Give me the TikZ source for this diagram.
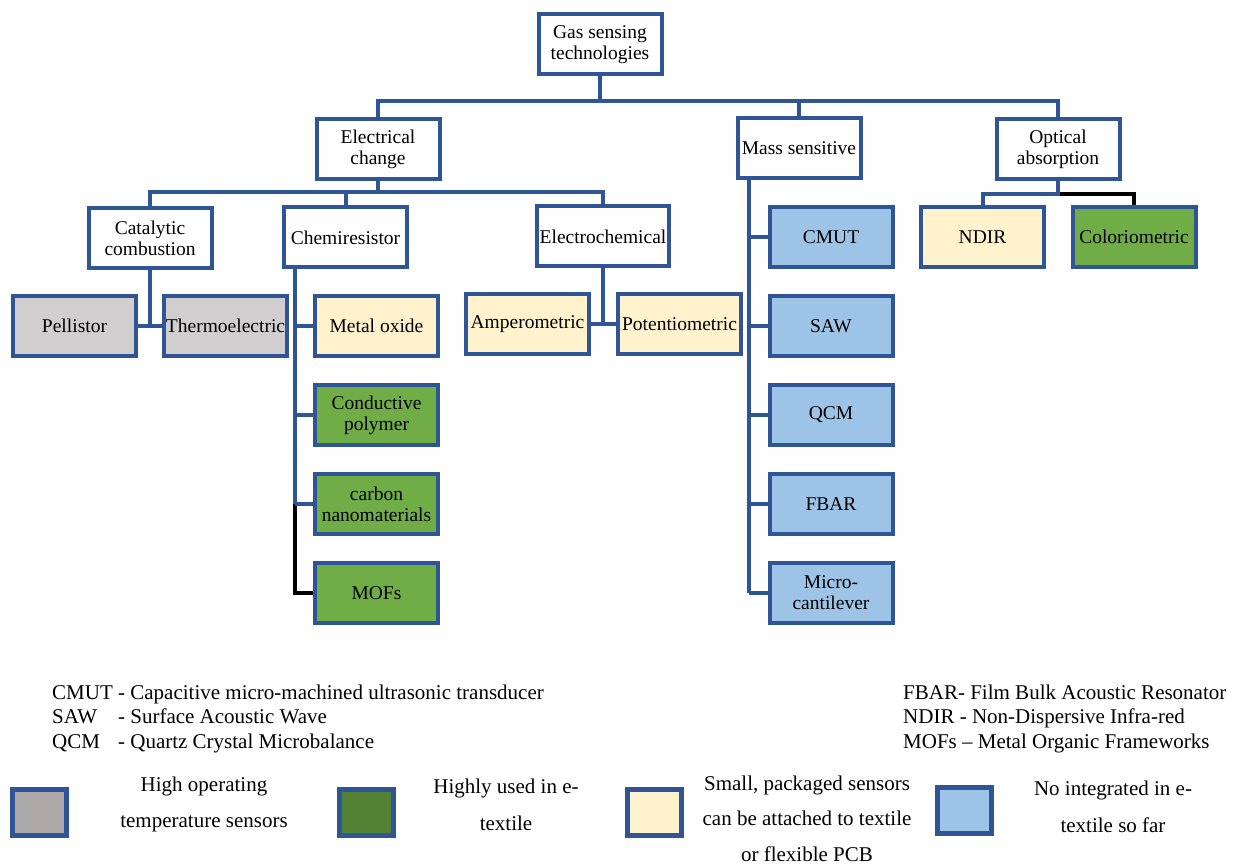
\documentclass[tikz,border=0pt]{standalone}
\usepackage{fontspec}
\setmainfont{Liberation Serif}
\usetikzlibrary{calc}
\definecolor{bord}{HTML}{2F5597}
\definecolor{grayn}{HTML}{D0CECE}
\definecolor{yel}{HTML}{FFF2CC}
\definecolor{grn}{HTML}{70AD47}
\definecolor{blu}{HTML}{9DC3E6}
\definecolor{lgray}{HTML}{AEAAAA}
\definecolor{lgrn}{HTML}{548235}
\begin{document}
\begin{tikzpicture}[x=1pt,y=-1pt,
  box/.style={draw=bord, line width=4pt, minimum width=123pt, minimum height=60pt, inner sep=0pt, align=center, font=\fontsize{19.5}{21}\selectfont},
  conn/.style={draw=bord, line width=4pt},
  blk/.style={draw=black, line width=4pt},
  lsq/.style={draw=bord, line width=5pt, minimum width=54pt, minimum height=46pt, inner sep=0pt},
  ltext/.style={align=center, inner sep=0pt, font=\fontsize{21}{36.5}\selectfont},
  abbr/.style={anchor=west, inner sep=0pt, font=\fontsize{21}{24.5}\selectfont}]
\fill[white] (0,0) rectangle (1245,866);
\useasboundingbox (0,0) rectangle (1245,866);

% nodes
\node[box] (gas) at (600,44.5) {Gas sensing\\technologies};
\node[box] (elec) at (378,149.5) {Electrical\\change};
\node[box] (mass) at (799,148.5) {Mass sensitive};
\node[box] (opt) at (1058,149.5) {Optical\\absorption};
\node[box] (cat) at (150,238) {Catalytic\\combustion};
\node[box] (chem) at (345.5,237.5) {Chemiresistor};
\node[box, minimum width=132pt] (echem) at (603,236.5) {Electrochemical};
\node[box, fill=grayn] (pell) at (74.5,326) {Pellistor};
\node[box, fill=grayn] (thermo) at (225.5,326) {Thermoelectric};
\node[box, fill=yel] (metal) at (376.5,326) {Metal oxide};
\node[box, fill=grn] (cond) at (376.5,415) {Conductive\\polymer};
\node[box, fill=grn] (carbon) at (376.5,504) {carbon\\nanomaterials};
\node[box, fill=grn] (mofs) at (376.5,593) {MOFs};
\node[box, fill=yel] (amp) at (527.5,324) {Amperometric};
\node[box, fill=yel] (pot) at (679.5,324) {Potentiometric};
\node[box, fill=blu] (cmut) at (831,237) {CMUT};
\node[box, fill=blu] (saw) at (831,326) {SAW};
\node[box, fill=blu] (qcm) at (831,415) {QCM};
\node[box, fill=blu] (fbar) at (831,504) {FBAR};
\node[box, fill=blu] (micro) at (831,593) {Micro-\\cantilever};
\node[box, fill=yel] (ndir) at (982.5,237) {NDIR};
\node[box, fill=grn] (col) at (1134,237) {Coloriometric};

% connectors
\coordinate (tb) at (600,101);
\draw[conn] (gas.south) -- (gas.south |- tb);
\draw[conn] (elec.north) |- (opt.north |- tb) -- (opt.north);
\draw[conn] (mass.north) -- (mass.north |- tb);

\coordinate (eb) at (378,192);
\draw[conn] (elec.south) -- (elec.south |- eb);
\draw[conn] (cat.north) |- (echem.north |- eb) -- (echem.north);
\draw[conn] (chem.north) -- (chem.north |- eb);

\draw[conn] (cat.south) -- (cat.south |- pell.east);
\draw[conn] (pell.east) -- (thermo.west);

\coordinate (ct) at ($(chem.south west)+(13,0)$);
\draw[blk] (ct |- carbon.west) |- (mofs.west);
\draw[conn] (ct) -- (ct |- carbon.west);
\foreach \n in {metal,cond,carbon} \draw[conn] (ct |- \n.west) -- (\n.west);

\draw[conn] (echem.south) -- (echem.south |- amp.east);
\draw[conn] (amp.east) -- (pot.west);

\coordinate (mt) at ($(mass.south west)+(13,0)$);
\draw[conn] (mt) -- (mt |- micro.west);
\foreach \n in {cmut,saw,qcm,fbar,micro} \draw[conn] (mt |- \n.west) -- (\n.west);

\coordinate (ob) at ($(opt.south)+(0,13)$);
\draw[blk] (ob) -| (col.north);
\draw[conn] (opt.south) -- (ob) -| (ndir.north);

% abbreviations
\node[abbr] (abl) at (52,719) {\begin{tabular}{@{}l@{ }l@{}}CMUT & - Capacitive micro-machined ultrasonic transducer\\ SAW & - Surface Acoustic Wave\\ QCM & - Quartz Crystal Microbalance\end{tabular}};
\node[abbr] (abr) at (903,719) {\begin{tabular}{@{}l@{}}FBAR- Film Bulk Acoustic Resonator\\ NDIR - Non-Dispersive Infra-red\\ MOFs – Metal Organic Frameworks\end{tabular}};

% legend
\node[lsq, fill=lgray] (l1) at (39.5,812.5) {};
\node[ltext] (t1) at (204,804.5) {High operating\\temperature sensors};
\node[lsq, fill=lgrn] (l2) at (366.5,812.5) {};
\node[ltext] (t2) at (506,805) {Highly used in e-\\textile};
\node[lsq, fill=yel] (l3) at (654.5,812.5) {};
\node[ltext, font=\fontsize{21}{35.5}\selectfont] (t3) at (807,818.5) {Small, packaged sensors\\can be attached to textile\\or flexible PCB};
\node[lsq, fill=blu] (l4) at (964,810.5) {};
\node[ltext] (t4) at (1113,807) {No integrated in e-\\textile so far};
\end{tikzpicture}
\end{document}
